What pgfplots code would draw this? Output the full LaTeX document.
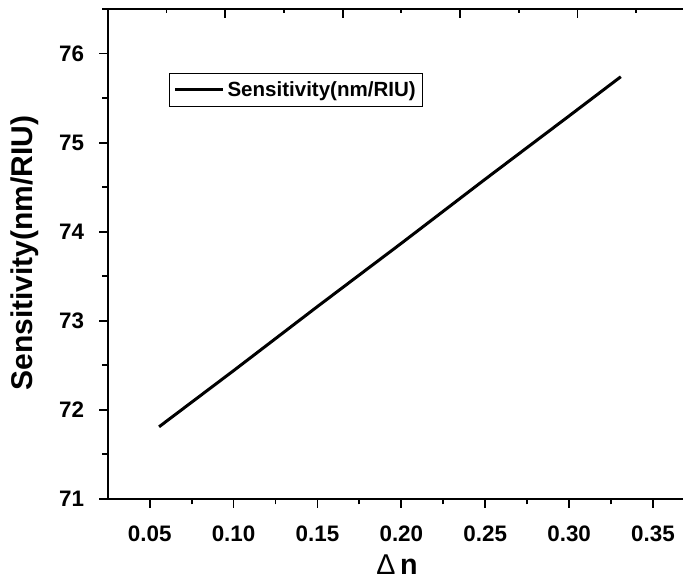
\documentclass[border=0pt]{standalone}
\usepackage{fontspec}
\setmainfont{Liberation Sans}
\usepackage{pgfplots}
\pgfplotsset{compat=1.18}
\usetikzlibrary{calc}

\begin{document}
\begin{tikzpicture}
\pgfplotsset{
  base/.style={
    scale only axis, width=440.5pt, height=367.5pt,
    xmin=0.025, xmax=0.375, ymin=71, ymax=76.5,
    /pgf/number format/assume math mode=true,
  },
}
% main axis: bottom and left ticks point outward
\begin{axis}[base,
  axis line style={line width=1.5pt},
  xtick={0.05,0.10,...,0.35},
  minor xtick={0.075,0.125,...,0.375},
  ytick={71,72,...,76},
  minor ytick={71.5,72.5,...,76},
  xtick pos=bottom, ytick pos=left,
  tick align=outside,
  major tick length=6.5pt, minor tick length=4pt,
  every tick/.style={black, line width=1.4pt},
  xticklabel={\pgfmathprintnumber[fixed,fixed zerofill,precision=2]{\tick}},
  ticklabel style={font=\bfseries\fontsize{16.8}{19}\selectfont},
  xticklabel style={anchor=center, yshift=-19.5pt},
  yticklabel style={anchor=east, inner sep=0pt, xshift=-11pt},
  xlabel={{\fontsize{21.5}{24}\selectfont Δ\,\textbf{n}}},
  xlabel style={at={(axis description cs:0.4926,0)}, anchor=center, yshift=-49.5pt},
  ylabel={\bfseries\fontsize{22.5}{25}\selectfont Sensitivity(nm/RIU)},
  ylabel style={at={(axis description cs:0,0.502)}, anchor=center, yshift=62pt},
  legend style={at={(axis description cs:0.105,0.87)}, anchor=north west,
    draw=black, line width=0.75pt, inner xsep=3pt, inner ysep=4pt,
    font=\bfseries\fontsize{15.4}{18}\selectfont},
  legend cell align=left,
  legend image code/.code={\draw[#1] (2pt,0pt) -- (38pt,0pt);},
]
\addplot[black, line width=2.25pt] coordinates {
  (0.0556,71.81) (0.10,72.44) (0.15,73.16) (0.20,73.87)
  (0.25,74.59) (0.30,75.30) (0.3308,75.74)
};
\addlegendentry{Sensitivity(nm/RIU)}
\end{axis}
% top axis ticks pointing inward
\begin{axis}[base,
  axis line style={draw=none},
  xtick={0.095,0.165,0.235,0.305},
  minor xtick={0.06,0.13,0.20,0.27,0.34},
  ytick=\empty,
  xtick pos=top, tick align=inside,
  xticklabels={},
  major tick length=6.75pt, minor tick length=3pt,
  every tick/.style={black, line width=1.4pt},
]
\end{axis}
\pgfresetboundingbox
\useasboundingbox ($(current axis.south west)+(-80.8pt,-65.25pt)$)
  rectangle ($(current axis.north west)+(431.5pt,6.75pt)$);
\end{tikzpicture}
\end{document}
